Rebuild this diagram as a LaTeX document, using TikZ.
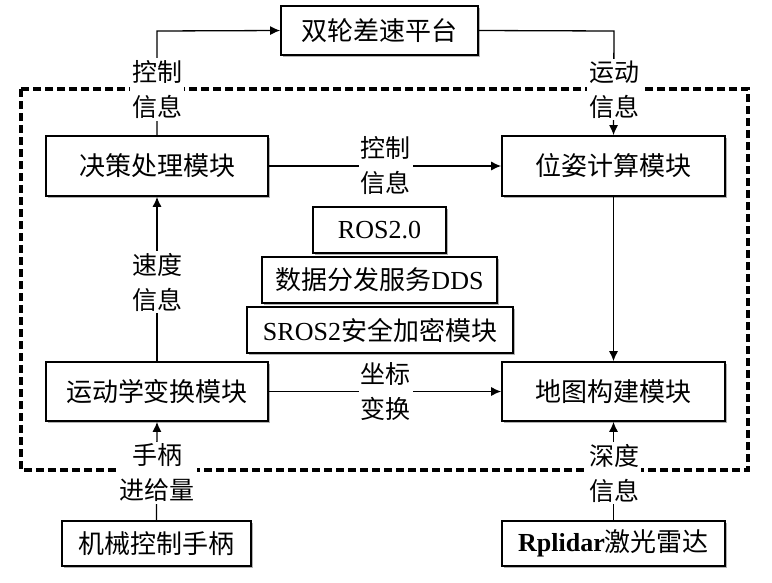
\documentclass[tikz,border=0pt]{standalone}
\usepackage{fontspec}
\setmainfont{Liberation Serif}
\newfontfamily\cjk{Noto Sans CJK SC}
\usetikzlibrary{arrows.meta,shadows}
\begin{document}
\begin{tikzpicture}[x=1pt,y=-1pt,
  box/.style={draw,line width=1.6pt,fill=white,inner sep=0pt,
    drop shadow={shadow xshift=2pt,shadow yshift=-2pt,fill=black!50,opacity=0.6},
    font=\fontsize{26}{30}\selectfont\cjk},
  lbl/.style={fill=white,inner sep=2pt,align=center,font=\fontsize{25}{35}\selectfont\cjk},
  conn/.style={line width=1.3pt},
  arr/.style={conn,-{Latex[length=10pt,width=9pt]}},
  dashframe/.style={line width=3.4pt,dash pattern=on 8pt off 4pt}]
\useasboundingbox (0,0) rectangle (772,582);
\fill[white] (0,0) rectangle (772,582);
% dashed frame
\draw[dashframe] (21,89) rectangle (748,470);
% boxes
\node[box,minimum width=197pt,minimum height=49pt] (plat) at (379.5,30.5) {双轮差速平台};
\node[box,minimum width=222pt,minimum height=60pt] (jc) at (157,166) {决策处理模块};
\node[box,minimum width=223pt,minimum height=60pt] (wz) at (613.5,166) {位姿计算模块};
\node[box,minimum width=222pt,minimum height=59pt] (yd) at (157,391.5) {运动学变换模块};
\node[box,minimum width=223pt,minimum height=59pt] (dt) at (613.5,391.5) {地图构建模块};
\node[box,minimum width=189pt,minimum height=45pt] (jx) at (156.5,543.5) {机械控制手柄};
\node[box,minimum width=223pt,minimum height=45pt] (rp) at (613.5,543.5) {{\rmfamily\bfseries Rplidar}激光雷达};
\node[box,minimum width=133pt,minimum height=46pt] (ros) at (379.5,230) {\rmfamily ROS2.0};
\node[box,minimum width=235pt,minimum height=46pt] (dds) at (379.5,280) {数据分发服务{\rmfamily DDS}};
\node[box,minimum width=266pt,minimum height=46pt] (sros) at (380,330) {{\rmfamily SROS2}安全加密模块};
% coordinates
\coordinate (c1) at (157,31);
\coordinate (c2) at (614,31);
% connectors
\draw[arr] (jc.north) -- (c1) -- (plat.west);
\draw[arr] (plat.east) -- (c2) -- (wz.north);
\draw[arr] (jc.east) -- (wz.west);
\draw[arr] (wz.south) -- (dt.north);
\draw[arr] (yd.north) -- (jc.south);
\draw[arr] (yd.east) -- (dt.west);
\draw[arr] (jx.north) -- (yd.south);
\draw[arr] (rp.north) -- (dt.south);
% labels
\node[lbl] (l1) at (157,89.5) {控制\\信息};
\node[lbl] (l2) at (614,89.5) {运动\\信息};
\node[lbl] (l3) at (385.5,166) {控制\\信息};
\node[lbl] (l4) at (157,282) {速度\\信息};
\node[lbl] (l5) at (385.5,391.5) {坐标\\变换};
\node[lbl] (l6) at (157,473) {手柄\\进给量};
\node[lbl] (l7) at (614,473) {深度\\信息};
\end{tikzpicture}
\end{document}
